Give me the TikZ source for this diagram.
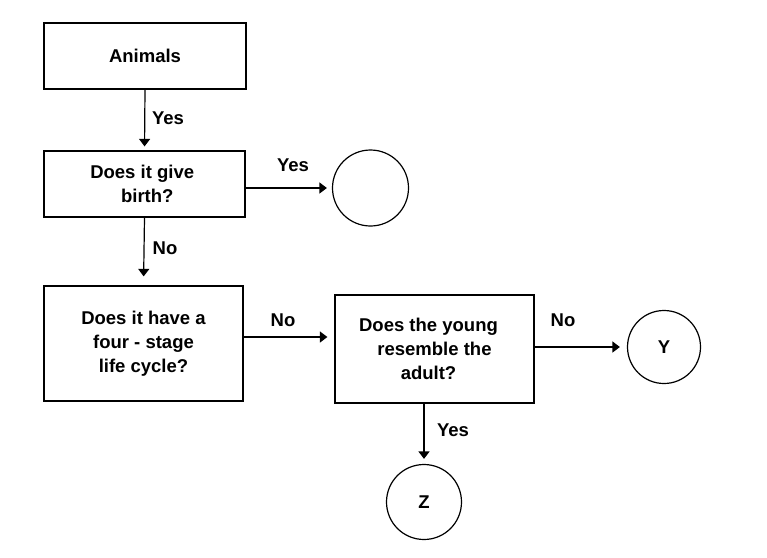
\documentclass[tikz,border=0pt]{standalone}
\usepackage{fontspec}
\setmainfont{Liberation Sans}
\usetikzlibrary{arrows.meta}
\begin{document}
\begin{tikzpicture}[x=1pt,y=-1pt,
  every node/.style={font=\fontsize{18.5}{24}\selectfont\bfseries},
  box/.style={draw,line width=1.2pt,rectangle,inner sep=0pt,align=center},
  term/.style={draw,line width=1.2pt,circle,inner sep=0pt},
  arr/.style={line width=1.2pt,-{Triangle[length=7.5pt,width=11pt]}},
  lbl/.style={inner sep=0pt}]
\useasboundingbox (0,0) rectangle (767,557);
\node[box,minimum width=202pt,minimum height=66pt] (animals) at (145,56) {Animals};
\node[box,minimum width=201pt,minimum height=66pt] (birth) at (144.5,184) {Does it give\hspace*{0.25em}\\\hspace*{0.3em}birth?};
\node[box,minimum width=199pt,minimum height=115pt] (four) at (143.5,343.5) {Does it have a\\four - stage\\life cycle?};
\node[box,minimum width=199pt,minimum height=108pt] (young) at (434.5,349) {Does the young\hspace*{12pt}\\resemble the\hspace*{12pt}\\adult?\hspace*{12pt}};
\node[term,minimum size=76pt] (c1) at (370.5,188) {};
\node[term,minimum size=73pt] (cy) at (664,347) {Y};
\node[term,minimum size=75pt] (cz) at (424,502) {Z};
\draw[arr,shorten >=4pt] (animals.south) -- (birth.north);
\draw[arr,shorten >=5pt] (birth.east |- c1.west) -- (c1.west);
\draw[arr,shorten >=9pt] (birth.south) -- (four.north);
\coordinate (fy) at (0,337);
\draw[arr,shorten >=7pt] (four.east |- fy) -- (young.west |- fy);
\draw[arr,shorten >=7pt] (young.east |- cy.west) -- (cy.west);
\draw[arr,shorten >=5pt] (young.south -| cz.north) -- (cz.north);
\node[lbl] (l1) at (168,118) {Yes};
\node[lbl] (l2) at (293,165) {Yes};
\node[lbl] (l3) at (165,248) {No};
\node[lbl] (l4) at (283,320) {No};
\node[lbl] (l5) at (563,320) {No};
\node[lbl] (l6) at (453,430) {Yes};
\end{tikzpicture}
\end{document}
